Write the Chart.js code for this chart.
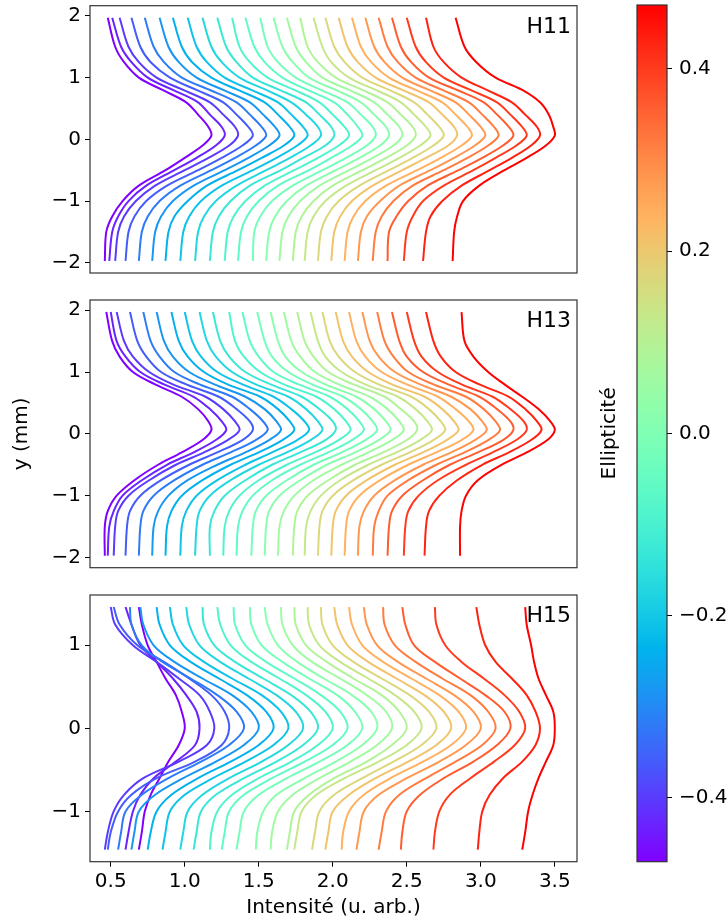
<!DOCTYPE html>
<html>
<head>
<meta charset="utf-8">
<script src="https://cdn.jsdelivr.net/npm/chart.js@4.4.1/dist/chart.umd.min.js"></script>
<style>
  body { margin: 0; background: #fff; width: 728px; height: 923px; position: relative; overflow: hidden; }
  canvas { position: absolute; }
</style>
</head>
<body>
<!-- canvases overlap a bit so the tick labels near the frame don't push the plot area -->
<canvas id="h11" width="590" height="320" style="left:0;top:-20px"></canvas>
<canvas id="h13" width="590" height="320" style="left:0;top:275px"></canvas>
<canvas id="h15" width="590" height="353" style="left:0;top:570px"></canvas>
<canvas id="cbar" width="138" height="943" style="left:590px;top:-20px"></canvas>
<script>
// y sample positions (mm) of the profiles
yLevelsH11 = [1.97, 1.5, 1.25, 1.0, 0.8, 0.6, 0.4, 0.2, 0.06, -0.1, -0.3, -0.5, -0.75, -1.0, -1.25, -1.5, -1.97]
yLevelsH13 = yLevelsH11
yLevelsH15 = [1.46, 1.25, 1.0, 0.8, 0.6, 0.4, 0.2, 0, -0.2, -0.4, -0.6, -0.8, -1.0, -1.25, -1.46]

// ellipticity of each curve (colour), from -0.47 to 0.47
ellipticity = [-0.47, -0.43, -0.40, -0.36, -0.32, -0.28, -0.24, -0.21, -0.17, -0.13, -0.09, -0.06, -0.02,
  0.02, 0.06, 0.09, 0.13, 0.17, 0.21, 0.24, 0.28, 0.32, 0.36, 0.40, 0.43, 0.47]

// intensity (u. arb.) at each y level, one row per curve
h11Curves = [
  [0.48,0.53,0.59,0.69,0.85,1.01,1.09,1.16,1.18,1.12,1.00,0.87,0.69,0.58,0.51,0.47,0.46],
  [0.51,0.57,0.64,0.75,0.92,1.09,1.17,1.25,1.27,1.21,1.08,0.93,0.74,0.62,0.55,0.51,0.49],
  [0.56,0.62,0.69,0.81,0.99,1.17,1.26,1.34,1.36,1.30,1.16,1.00,0.80,0.67,0.59,0.55,0.53],
  [0.64,0.70,0.77,0.90,1.08,1.26,1.35,1.43,1.46,1.39,1.25,1.09,0.88,0.74,0.66,0.62,0.60],
  [0.73,0.79,0.86,0.98,1.17,1.35,1.44,1.52,1.55,1.48,1.34,1.18,0.97,0.83,0.75,0.71,0.69],
  [0.83,0.89,0.96,1.08,1.26,1.44,1.53,1.61,1.64,1.57,1.43,1.27,1.06,0.92,0.84,0.80,0.78],
  [0.92,0.98,1.05,1.18,1.36,1.54,1.63,1.71,1.74,1.67,1.52,1.36,1.15,1.02,0.93,0.89,0.87],
  [1.02,1.08,1.15,1.27,1.45,1.63,1.72,1.80,1.83,1.76,1.62,1.46,1.25,1.11,1.03,0.99,0.97],
  [1.12,1.18,1.25,1.37,1.55,1.72,1.82,1.90,1.92,1.85,1.71,1.55,1.35,1.21,1.13,1.09,1.07],
  [1.22,1.28,1.35,1.46,1.64,1.82,1.91,1.99,2.01,1.95,1.80,1.65,1.44,1.31,1.23,1.19,1.17],
  [1.32,1.37,1.44,1.56,1.74,1.91,2.00,2.08,2.11,2.04,1.90,1.74,1.54,1.41,1.33,1.29,1.27],
  [1.41,1.47,1.54,1.66,1.83,2.01,2.10,2.17,2.20,2.13,1.99,1.84,1.63,1.50,1.42,1.38,1.36],
  [1.51,1.56,1.63,1.75,1.92,2.10,2.19,2.27,2.29,2.23,2.09,1.93,1.73,1.59,1.51,1.47,1.46],
  [1.60,1.66,1.73,1.84,2.02,2.19,2.28,2.36,2.38,2.32,2.18,2.02,1.82,1.69,1.61,1.57,1.55],
  [1.69,1.75,1.82,1.93,2.11,2.28,2.37,2.45,2.47,2.41,2.27,2.11,1.91,1.78,1.70,1.66,1.64],
  [1.78,1.83,1.90,2.02,2.20,2.37,2.46,2.54,2.56,2.50,2.36,2.20,2.00,1.87,1.79,1.75,1.73],
  [1.87,1.93,1.99,2.11,2.29,2.46,2.55,2.63,2.66,2.59,2.45,2.29,2.09,1.95,1.87,1.83,1.81],
  [1.95,2.01,2.08,2.20,2.38,2.55,2.64,2.72,2.75,2.68,2.54,2.38,2.18,2.04,1.96,1.92,1.90],
  [2.04,2.10,2.17,2.29,2.47,2.65,2.74,2.82,2.84,2.78,2.63,2.47,2.27,2.13,2.05,2.01,1.99],
  [2.13,2.19,2.26,2.38,2.56,2.74,2.83,2.91,2.94,2.87,2.73,2.57,2.36,2.22,2.14,2.10,2.08],
  [2.22,2.28,2.35,2.47,2.65,2.83,2.92,3.00,3.03,2.96,2.82,2.66,2.45,2.32,2.23,2.19,2.17],
  [2.31,2.37,2.44,2.56,2.74,2.92,3.01,3.09,3.12,3.05,2.91,2.75,2.54,2.41,2.33,2.29,2.27],
  [2.40,2.46,2.53,2.65,2.84,3.02,3.11,3.19,3.22,3.15,3.01,2.85,2.64,2.51,2.43,2.38,2.37],
  [2.50,2.56,2.63,2.75,2.93,3.11,3.20,3.28,3.31,3.24,3.10,2.95,2.75,2.61,2.54,2.50,2.48],
  [2.63,2.68,2.75,2.87,3.04,3.21,3.30,3.38,3.40,3.34,3.21,3.06,2.87,2.74,2.66,2.63,2.61],
  [2.83,2.89,2.97,3.10,3.28,3.40,3.46,3.49,3.50,3.44,3.31,3.16,2.99,2.88,2.84,2.82,2.81]
]

h13Curves = [
  [0.47,0.51,0.56,0.65,0.80,0.98,1.09,1.16,1.18,1.12,0.98,0.82,0.66,0.54,0.48,0.46,0.46],
  [0.50,0.54,0.60,0.70,0.86,1.06,1.17,1.25,1.28,1.21,1.06,0.88,0.71,0.58,0.52,0.49,0.48],
  [0.54,0.59,0.65,0.76,0.92,1.14,1.26,1.34,1.37,1.29,1.13,0.94,0.76,0.62,0.55,0.53,0.52],
  [0.63,0.68,0.74,0.84,1.01,1.23,1.35,1.44,1.46,1.39,1.22,1.03,0.84,0.70,0.63,0.61,0.60],
  [0.72,0.77,0.83,0.93,1.10,1.32,1.44,1.53,1.56,1.48,1.31,1.12,0.93,0.79,0.72,0.70,0.69],
  [0.81,0.86,0.92,1.03,1.20,1.41,1.54,1.62,1.65,1.57,1.41,1.22,1.02,0.89,0.82,0.79,0.78],
  [0.91,0.96,1.02,1.13,1.29,1.51,1.63,1.71,1.74,1.66,1.50,1.31,1.12,0.98,0.91,0.88,0.87],
  [1.00,1.05,1.11,1.22,1.39,1.60,1.72,1.81,1.84,1.76,1.59,1.41,1.22,1.08,1.01,0.98,0.97],
  [1.10,1.15,1.21,1.32,1.48,1.70,1.82,1.90,1.93,1.85,1.69,1.50,1.31,1.17,1.10,1.08,1.07],
  [1.19,1.24,1.30,1.41,1.58,1.79,1.91,2.00,2.02,1.95,1.78,1.59,1.41,1.27,1.20,1.17,1.17],
  [1.30,1.34,1.40,1.51,1.67,1.89,2.01,2.09,2.12,2.04,1.88,1.69,1.50,1.37,1.30,1.27,1.26],
  [1.39,1.44,1.50,1.60,1.77,1.98,2.10,2.18,2.21,2.13,1.97,1.78,1.59,1.46,1.39,1.36,1.35],
  [1.49,1.54,1.59,1.70,1.86,2.07,2.19,2.27,2.30,2.22,2.06,1.87,1.69,1.55,1.48,1.46,1.45],
  [1.58,1.63,1.68,1.79,1.95,2.16,2.28,2.36,2.39,2.31,2.15,1.96,1.78,1.64,1.57,1.55,1.54],
  [1.67,1.72,1.78,1.88,2.04,2.25,2.37,2.45,2.48,2.40,2.24,2.06,1.87,1.74,1.67,1.64,1.63],
  [1.76,1.81,1.87,1.97,2.14,2.35,2.46,2.55,2.57,2.50,2.34,2.15,1.97,1.83,1.76,1.74,1.73],
  [1.85,1.90,1.95,2.06,2.22,2.44,2.56,2.64,2.67,2.59,2.43,2.24,2.05,1.92,1.85,1.82,1.81],
  [1.93,1.98,2.04,2.15,2.31,2.53,2.65,2.73,2.76,2.68,2.52,2.33,2.14,2.00,1.93,1.91,1.90],
  [2.02,2.07,2.13,2.24,2.40,2.62,2.74,2.82,2.85,2.77,2.61,2.42,2.23,2.09,2.02,2.00,1.99],
  [2.11,2.16,2.22,2.33,2.50,2.71,2.83,2.92,2.95,2.87,2.70,2.51,2.32,2.18,2.11,2.09,2.08],
  [2.20,2.25,2.31,2.42,2.59,2.80,2.93,3.01,3.04,2.96,2.80,2.61,2.42,2.28,2.21,2.18,2.17],
  [2.30,2.35,2.41,2.51,2.68,2.90,3.02,3.10,3.13,3.05,2.89,2.70,2.51,2.37,2.31,2.28,2.27],
  [2.40,2.45,2.50,2.61,2.78,2.99,3.11,3.20,3.22,3.15,2.98,2.79,2.61,2.47,2.40,2.38,2.37],
  [2.50,2.55,2.60,2.71,2.87,3.08,3.20,3.29,3.31,3.24,3.08,2.90,2.71,2.58,2.51,2.49,2.48],
  [2.63,2.68,2.73,2.83,2.99,3.19,3.30,3.38,3.41,3.34,3.19,3.01,2.84,2.72,2.65,2.63,2.62],
  [2.87,2.89,2.95,3.05,3.16,3.28,3.39,3.47,3.50,3.45,3.31,3.14,2.98,2.90,2.87,2.86,2.86]
]

h15Curves = [
  [0.69,0.71,0.75,0.81,0.87,0.94,0.98,1.00,0.96,0.89,0.83,0.77,0.73,0.71,0.69],
  [0.60,0.64,0.70,0.81,0.92,1.01,1.08,1.10,1.07,0.94,0.79,0.70,0.65,0.62,0.60],
  [0.50,0.53,0.65,0.81,0.96,1.10,1.17,1.20,1.15,0.96,0.72,0.59,0.52,0.48,0.46],
  [0.52,0.56,0.68,0.86,1.03,1.18,1.27,1.30,1.25,1.07,0.81,0.64,0.55,0.50,0.48],
  [0.63,0.64,0.71,0.85,1.04,1.22,1.35,1.40,1.30,1.11,0.89,0.71,0.60,0.57,0.55],
  [0.70,0.72,0.79,0.93,1.12,1.32,1.45,1.50,1.40,1.21,0.99,0.80,0.69,0.66,0.64],
  [0.81,0.83,0.90,1.04,1.23,1.42,1.55,1.60,1.50,1.31,1.09,0.91,0.81,0.77,0.75],
  [0.90,0.92,0.99,1.13,1.32,1.52,1.65,1.70,1.60,1.41,1.19,1.00,0.90,0.87,0.85],
  [1.01,1.03,1.10,1.24,1.43,1.62,1.75,1.80,1.70,1.52,1.30,1.12,1.02,0.99,0.97],
  [1.12,1.13,1.20,1.34,1.53,1.72,1.85,1.90,1.80,1.62,1.40,1.21,1.11,1.08,1.06],
  [1.22,1.24,1.31,1.45,1.64,1.82,1.95,2.00,1.90,1.72,1.50,1.32,1.22,1.18,1.17],
  [1.33,1.34,1.41,1.55,1.74,1.92,2.05,2.10,2.00,1.81,1.59,1.40,1.30,1.27,1.25],
  [1.44,1.45,1.52,1.66,1.84,2.03,2.15,2.20,2.10,1.91,1.69,1.50,1.40,1.37,1.35],
  [1.54,1.56,1.63,1.76,1.94,2.13,2.26,2.30,2.20,2.02,1.81,1.62,1.53,1.49,1.48],
  [1.65,1.66,1.73,1.86,2.05,2.23,2.36,2.40,2.30,2.12,1.91,1.73,1.63,1.59,1.58],
  [1.74,1.75,1.82,1.96,2.14,2.33,2.45,2.50,2.40,2.23,2.01,1.84,1.74,1.71,1.69],
  [1.83,1.84,1.91,2.05,2.24,2.42,2.55,2.60,2.50,2.31,2.08,1.89,1.79,1.76,1.74],
  [1.92,1.93,2.00,2.14,2.33,2.52,2.65,2.70,2.60,2.41,2.20,2.01,1.91,1.88,1.86],
  [2.01,2.03,2.10,2.24,2.43,2.62,2.75,2.80,2.70,2.51,2.29,2.11,2.00,1.97,1.95],
  [2.11,2.13,2.20,2.34,2.53,2.72,2.85,2.90,2.80,2.61,2.39,2.21,2.11,2.07,2.06],
  [2.21,2.23,2.30,2.44,2.63,2.82,2.95,3.00,2.90,2.72,2.50,2.31,2.21,2.18,2.16],
  [2.34,2.35,2.42,2.56,2.74,2.93,3.05,3.10,3.01,2.83,2.63,2.45,2.36,2.33,2.31],
  [2.47,2.49,2.55,2.69,2.86,3.03,3.16,3.20,3.11,2.95,2.75,2.59,2.50,2.47,2.46],
  [2.69,2.70,2.76,2.87,3.02,3.16,3.26,3.30,3.23,3.09,2.93,2.79,2.72,2.69,2.68],
  [2.97,2.99,3.03,3.10,3.21,3.31,3.37,3.40,3.37,3.28,3.15,3.06,3.01,2.99,2.98],
  [3.30,3.31,3.34,3.36,3.39,3.44,3.49,3.50,3.49,3.44,3.39,3.35,3.32,3.30,3.28]
]

xTicks = [0.5, 1.0, 1.5, 2.0, 2.5, 3.0, 3.5]
yTicksH11 = [-2, -1, 0, 1, 2]
yTicksH15 = [-1, 0, 1]
cbarTicks = [-0.4, -0.2, 0.0, 0.2, 0.4]

X_MIN = 0.36
X_MAX = 3.65
E_MIN = -0.47
E_MAX = 0.47

Chart.defaults.font.family = "'DejaVu Sans', sans-serif"
Chart.defaults.color = '#000'

// matplotlib 'rainbow' colormap
function rainbow(t) {
  let r = Math.min(1, Math.abs(2 * t - 0.5))
  let g = Math.sin(Math.PI * t)
  let b = Math.cos(Math.PI * t / 2)
  return `rgb(${Math.round(r * 255)}, ${Math.round(g * 255)}, ${Math.round(b * 255)})`
}

function fmtTick(v, digits) {
  return (v < -1e-9 ? '\u2212' : '') + Math.abs(v).toFixed(digits)
}

// frame round the axes + the Hxx label in the upper right corner
const frameLabel = {
  id: 'frameLabel',
  afterDraw(chart, args, opts) {
    const { ctx, chartArea } = chart
    ctx.save()
    ctx.strokeStyle = '#333'
    ctx.lineWidth = 1.2
    ctx.strokeRect(chartArea.left, chartArea.top, chartArea.right - chartArea.left, chartArea.bottom - chartArea.top)
    if (opts.text) {
      ctx.font = "22px 'DejaVu Sans'"
      ctx.fillStyle = '#000'
      ctx.textAlign = 'right'
      ctx.textBaseline = 'alphabetic'
      ctx.fillText(opts.text, chartArea.right - 6, chartArea.top + 27)
    }
    ctx.restore()
  }
}
Chart.register(frameLabel)

function makeSets(curves, levels) {
  return curves.map((xs, i) => ({
    data: xs.map((x, k) => ({ x: x, y: levels[k] })),
    borderColor: rainbow((ellipticity[i] - E_MIN) / (E_MAX - E_MIN)),
    order: curves.length - i
  }))
}

function drawPanel(id, name, curves, levels, yLim, yTicks, pad, showX, showYTitle) {
  new Chart(document.getElementById(id), {
    type: 'line',
    data: { datasets: makeSets(curves, levels) },
    options: {
      responsive: false,
      animation: false,
      events: [],
      layout: { padding: pad },
      elements: {
        point: { radius: 0 },
        line: { borderWidth: 2, tension: 0.35, fill: false }
      },
      plugins: {
        legend: { display: false },
        tooltip: { enabled: false },
        frameLabel: { text: name }
      },
      scales: {
        x: {
          type: 'linear',
          min: X_MIN,
          max: X_MAX,
          display: showX,
          afterFit: function (s) { if (showX) s.height = 61.3 },
          afterBuildTicks: function (s) { s.ticks = xTicks.map(v => ({ value: v })) },
          grid: { drawOnChartArea: false, drawTicks: true, tickLength: 5, color: '#000' },
          border: { display: false },
          ticks: { autoSkip: false, maxRotation: 0, padding: 3, font: { size: 20 }, callback: v => fmtTick(v, 1) },
          title: { display: true, text: 'Intensité (u. arb.)', font: { size: 20 }, padding: { top: 0, bottom: 3 } }
        },
        y: {
          type: 'linear',
          min: -yLim,
          max: yLim,
          afterFit: function (s) { s.width = 90 },
          afterBuildTicks: function (s) { s.ticks = yTicks.map(v => ({ value: v })) },
          grid: { drawOnChartArea: false, drawTicks: true, tickLength: 5, color: '#000' },
          border: { display: false },
          ticks: { autoSkip: false, padding: 4, font: { size: 20 }, callback: v => fmtTick(v, 0) },
          title: { display: showYTitle, text: 'y (mm)', font: { size: 20 }, padding: { top: 10, bottom: 0 } }
        }
      }
    }
  })
}

// plot areas: H11 5.7-273, H13 300-567.7, H15 595-861.7 (page pixels)
drawPanel('h11', 'H11', h11Curves, yLevelsH11, 2.165, yTicksH11, { top: 25.7, bottom: 27, left: 0, right: 13 }, false, false)
drawPanel('h13', 'H13', h13Curves, yLevelsH13, 2.165, yTicksH11, { top: 25, bottom: 27.3, left: 0, right: 13 }, false, true)
drawPanel('h15', 'H15', h15Curves, yLevelsH15, 1.605, yTicksH15, { top: 25, bottom: 0, left: 0, right: 13 }, true, false)

// colour bar
function cbarGradient(chart) {
  const a = chart.chartArea
  if (!a) return null
  const g = chart.ctx.createLinearGradient(0, a.bottom, 0, a.top)
  for (let k = 0; k <= 32; k++) g.addColorStop(k / 32, rainbow(k / 32))
  return g
}

new Chart(document.getElementById('cbar'), {
  type: 'bar',
  data: {
    labels: ['e'],
    datasets: [{
      data: [[E_MIN, E_MAX]],
      backgroundColor: ctx => cbarGradient(ctx.chart),
      borderWidth: 0,
      barPercentage: 1,
      categoryPercentage: 1
    }]
  },
  options: {
    responsive: false,
    animation: false,
    events: [],
    layout: { padding: { top: 25, bottom: 61.3, left: 0, right: 0 } },
    plugins: { legend: { display: false }, tooltip: { enabled: false }, frameLabel: { text: '' } },
    scales: {
      x: { display: false },
      y: {
        position: 'right',
        min: E_MIN,
        max: E_MAX,
        afterFit: function (s) { s.width = 61 },
        afterBuildTicks: function (s) { s.ticks = cbarTicks.map(v => ({ value: v })) },
        grid: { drawOnChartArea: false, drawTicks: true, tickLength: 5, color: '#000' },
        border: { display: false },
        ticks: { autoSkip: false, padding: 7, font: { size: 20 }, callback: v => fmtTick(v, 1) }
      },
      yl: {
        position: 'left',
        min: E_MIN,
        max: E_MAX,
        afterFit: function (s) { s.width = 47 },
        grid: { display: false },
        border: { display: false },
        ticks: { display: false },
        title: { display: true, text: 'Ellipticité', font: { size: 20 }, padding: { top: 8, bottom: 0 } }
      }
    }
  }
})
</script>
</body>
</html>
